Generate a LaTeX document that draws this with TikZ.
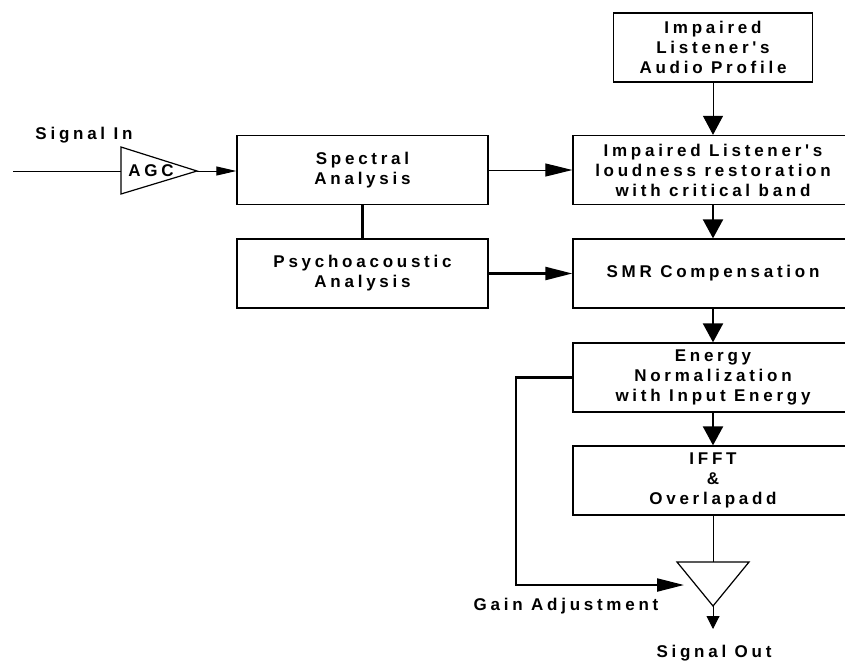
\documentclass[tikz,border=0pt]{standalone}
\usepackage{fontspec}
\newfontfamily\blockfont[LetterSpace=22]{Liberation Sans}
\usetikzlibrary{arrows.meta,positioning}

\begin{document}
\begin{tikzpicture}[
    x=1pt, y=-1pt,
    box/.style={rectangle, draw, line width=1.3pt, align=center, minimum height=69pt,
        font=\blockfont\bfseries\fontsize{17}{20}\selectfont},
    txt/.style={font=\blockfont\bfseries\fontsize{17}{20}\selectfont},
    harrow/.style={-{Triangle[length=27pt,width=13pt]}},
    varrow/.style={-{Triangle[length=19pt,width=20pt]}},
    thin line/.style={line width=1pt},
    thick line/.style={line width=2.2pt}
]
\useasboundingbox (0,0) rectangle (845,662);

% Analysis boxes
\node[box, minimum width=251pt] (spec) at (362.5,170) {Spectral\\Analysis};
\node[box, minimum width=251pt] (psy) at (362.5,273.5) {Psychoacoustic\\Analysis};

% Processing chain
\node[box, minimum width=199pt] (prof) at (713,47.5) {Impaired\\Listener's\\Audio Profile};
\node[box, minimum width=280pt] (loud) at (713,170) {Impaired Listener's\\loudness restoration\\with critical band};
\node[box, minimum width=280pt] (smr) at (713,273.5) {SMR Compensation};
\node[box, minimum width=280pt] (energy) at (713,377.5) {Energy\\Normalization\\with Input Energy};
\node[box, minimum width=280pt] (ifft) at (713,480.5) {IFFT\\\&\\Overlapadd};

% AGC triangle
\coordinate (in) at (13,171);
\coordinate (agcL) at (121,171);
\coordinate (agcT) at (197,171);
\draw[line width=1.2pt] (121,147) -- (agcT) -- (121,194) -- cycle;
\node[txt] (agc) at (151,171) {AGC};
\node[txt] (sigin) at (84,135) {Signal In};

% Output triangle
\coordinate (outT) at (713,562);
\coordinate (outB) at (713,606);
\coordinate (sigout) at (713,629);
\draw[line width=1.2pt] (677,562) -- (749,562) -- (outB) -- cycle;
\node[txt] (sigoutlbl) at (714,653) {Signal Out};

% Gain feedback
\coordinate (fb) at (516,585);
\coordinate (gainin) at (684,585);
\node[txt] (gainlbl) at (566,606) {Gain Adjustment};

% Arrows
\draw[thin line] (in) -- (agcL);
\draw[thin line, -{Triangle[length=20pt,width=9pt]}] (agcT) -- (agcT -| spec.west);
\draw[thin line, harrow] (spec.east) -- (loud.west);
\draw[thick line] (spec.south) -- (psy.north);
\draw[thick line, harrow] (psy.east) -- (smr.west);
\draw[thin line, varrow] (prof.south) -- (loud.north);
\draw[thick line, varrow] (loud.south) -- (smr.north);
\draw[thick line, varrow] (smr.south) -- (energy.north);
\draw[thick line, varrow] (energy.south) -- (ifft.north);
\draw[thin line] (ifft.south) -- (outT);
\draw[thin line, -{Triangle[length=13pt,width=13pt]}] (outB) -- (sigout);
\draw[thick line, harrow] (energy.west) -| (fb) -- (gainin);

\end{tikzpicture}
\end{document}
